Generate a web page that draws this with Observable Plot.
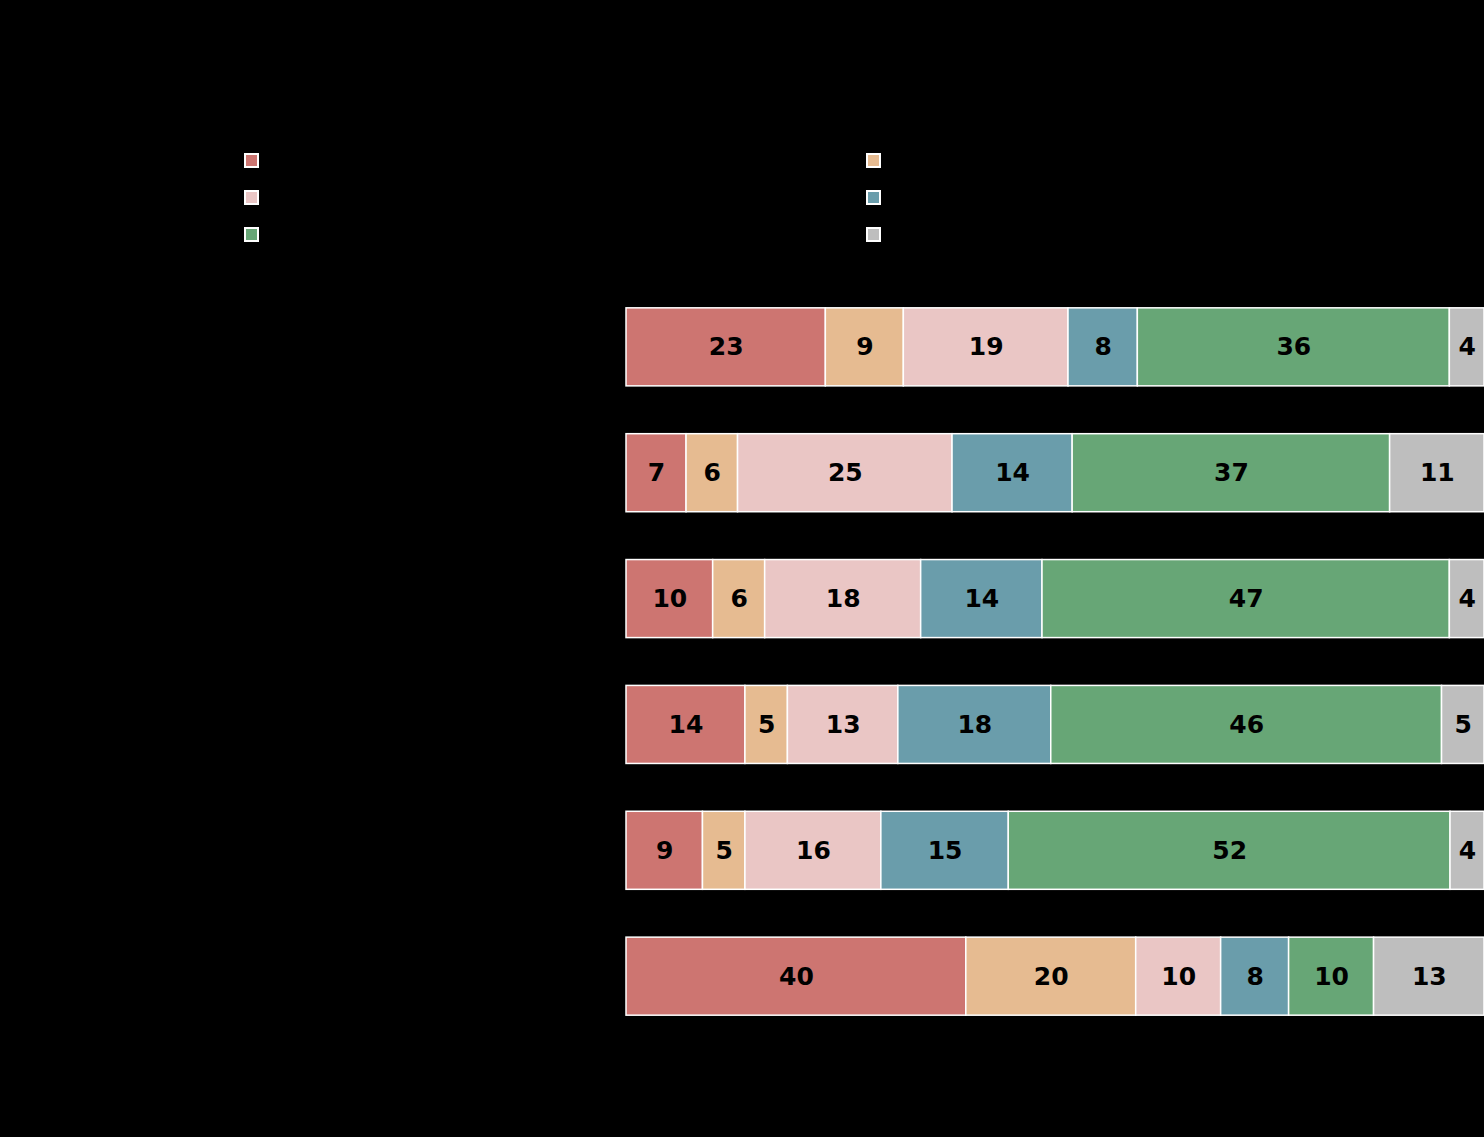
<!DOCTYPE html>
<html>
<head>
<meta charset="utf-8">
<script src="https://cdn.jsdelivr.net/npm/d3@7"></script>
<script src="https://cdn.jsdelivr.net/npm/@observablehq/plot@0.6"></script>
<style>
  html, body { margin: 0; padding: 0; background: #000; }
  #wrap { position: relative; width: 1484px; height: 1137px; overflow: hidden; background: #000; }
  #legend { position: absolute; left: 0; top: 0; width: 1484px; height: 260px; }
  .sw { position: absolute; width: 11px; height: 11px; border: 2px solid #fff; }
  .lt { position: absolute; color: #000; font: 16px "DejaVu Sans", sans-serif; }
</style>
</head>
<body>
<div id="wrap">
  <div id="chart"></div>
  <div id="legend"></div>
</div>
<script>
// Categories (rows, top to bottom) and series (stack order, left to right)
const categories = ["1", "2", "3", "4", "5", "6"];
const series = ["A", "B", "C", "D", "E", "F"];
const colors = ["#CD7571", "#E6BB91", "#EAC6C5", "#6A9DAB", "#67A676", "#BEBEBE"];

// Values per series, one entry per category
const valuesA = [23, 7, 10, 14, 9, 40];
const valuesB = [9, 6, 6, 5, 5, 20];
const valuesC = [19, 25, 18, 13, 16, 10];
const valuesD = [8, 14, 14, 18, 15, 8];
const valuesE = [36, 37, 47, 46, 52, 10];
const valuesF = [4, 11, 4, 5, 4, 13];
const seriesValues = [valuesA, valuesB, valuesC, valuesD, valuesE, valuesF];

const data = [];
categories.forEach((c, i) => {
  series.forEach((s, j) => {
    data.push({category: c, series: s, value: seriesValues[j][i]});
  });
});

const stackOpts = {x: "value", y: "category", z: "series", offset: "normalize"};

const chart = Plot.plot({
  width: 1484,
  height: 1137,
  marginLeft: 626,
  marginRight: 0,
  marginTop: 260,
  marginBottom: 74,
  style: {background: "#000", overflow: "hidden"},
  x: {domain: [0, 1], axis: null},
  y: {domain: categories, padding: 0.38, round: false, axis: null},
  color: {domain: series, range: colors},
  marks: [
    Plot.barX(data, Plot.stackX({...stackOpts, fill: "series", stroke: "#fff", strokeWidth: 1.5})),
    Plot.text(data, Plot.stackX({...stackOpts, text: d => String(d.value),
      fill: "#000", fontSize: 25, fontWeight: "bold", fontFamily: "DejaVu Sans, Verdana, sans-serif"}))
  ]
});
document.getElementById("chart").appendChild(chart);

// Legend (swatches; labels are black on black as in the reference)
const legend = document.getElementById("legend");
const legendPos = [[244, 153], [866, 153], [244, 190], [866, 190], [244, 227], [866, 227]];
const legendOrder = [0, 1, 2, 3, 4, 5];
legendOrder.forEach((k, i) => {
  const [lx, ly] = legendPos[i];
  const sw = document.createElement("div");
  sw.className = "sw";
  sw.style.left = lx + "px";
  sw.style.top = ly + "px";
  sw.style.background = colors[k];
  legend.appendChild(sw);
  const t = document.createElement("div");
  t.className = "lt";
  t.style.left = (lx + 24) + "px";
  t.style.top = (ly - 3) + "px";
  t.textContent = series[k];
  legend.appendChild(t);
});
</script>
</body>
</html>
